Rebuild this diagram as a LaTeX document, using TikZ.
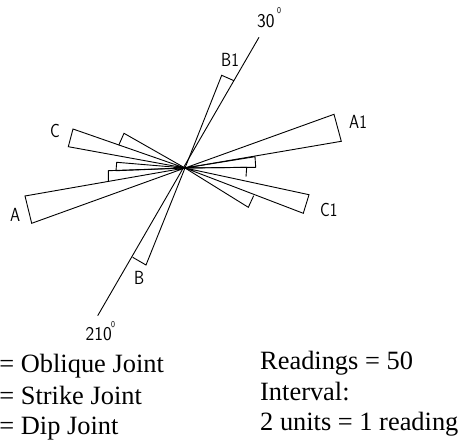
\documentclass[tikz,border=0pt]{standalone}
\usepackage{fontspec}
\setmainfont{Liberation Serif}
\newfontfamily\cadfont[FakeStretch=0.85]{Latin Modern Sans}
\newfontfamily\numfont[FakeStretch=0.95]{Latin Modern Sans}
\tikzset{
  petal/.style={draw=black,line width=0.9pt,line join=miter},
  axisline/.style={draw=black,line width=0.9pt},
  caption/.style={inner sep=0pt,anchor=base west,font=\fontsize{26.4}{26.4}\selectfont},
  cad/.style={inner sep=0pt,anchor=base west,font=\cadfont\fontsize{19}{19}\selectfont},
  cadnum/.style={inner sep=0pt,anchor=base west,font=\numfont\fontsize{19.5}{19.5}\selectfont},
  deg/.style={inner sep=0pt,anchor=base west,font=\cadfont\fontsize{9}{9}\selectfont}
}
\begin{document}
\begin{tikzpicture}[x=1pt,y=-1pt]
\useasboundingbox (0,0) rectangle (461,441);
\clip (0,0) rectangle (461,441);
\coordinate (o) at (185,168);
\coordinate (n) at (259,37.3);
\coordinate (s) at (97.7,315.7);
\draw[axisline] (s) -- (n);
\draw[petal] (o) -- (334,114.3) -- (341.3,141.3) -- cycle;
\draw[petal] (o) -- (25,196) -- (31.7,223.3) -- cycle;
\draw[petal] (o) -- (73,129) -- (68.3,146.7) -- cycle;
\draw[petal] (o) -- (309,194.7) -- (303.3,213.3) -- cycle;
\draw[petal] (o) -- (221.7,75.3) -- (234,80.7);
\draw[petal] (o) -- (146,265) -- (132.7,257.3);
\draw[petal] (o) -- (124,133.3) -- (118.7,145.3);
\draw[petal] (o) -- (248.3,207.3) -- (253.7,195.7);
\draw[petal] (o) -- (116.7,162.3) -- (116,170.7) -- (o);
\draw[petal] (o) -- (108.3,170.7) -- (108.3,181);
\draw[petal] (o) -- (255,156.7) -- (255.7,167.3) -- (o);
\draw[petal] (o) -- (246.7,167.3) -- (246,176.7);
\node[cadnum] (t30) at (257,28) {30};
\node[deg] (t30d) at (277,14) {0};
\node[cad] (tb1) at (221,67) {B1};
\node[cad] (ta1) at (349,129) {A1};
\node[cad] (tc) at (50,138) {C};
\node[cad] (ta) at (10,222) {A};
\node[cad] (tc1) at (320,217) {C1};
\node[cad] (tb) at (134,284) {B};
\node[cadnum] (t210) at (85.5,340) {210};
\node[deg] (t210d) at (111,327) {0};
\node[caption] (l1) at (-0.8,372.7) {= Oblique Joint};
\node[caption] (l2) at (-0.8,404) {= Strike Joint};
\node[caption] (l3) at (-0.8,434.3) {= Dip Joint};
\node[caption] (r1) at (260,369) {Readings = 50};
\node[caption] (r2) at (260,400) {Interval:};
\node[caption] (r3) at (260,430.7) {2 units = 1 reading};
\end{tikzpicture}
\end{document}
